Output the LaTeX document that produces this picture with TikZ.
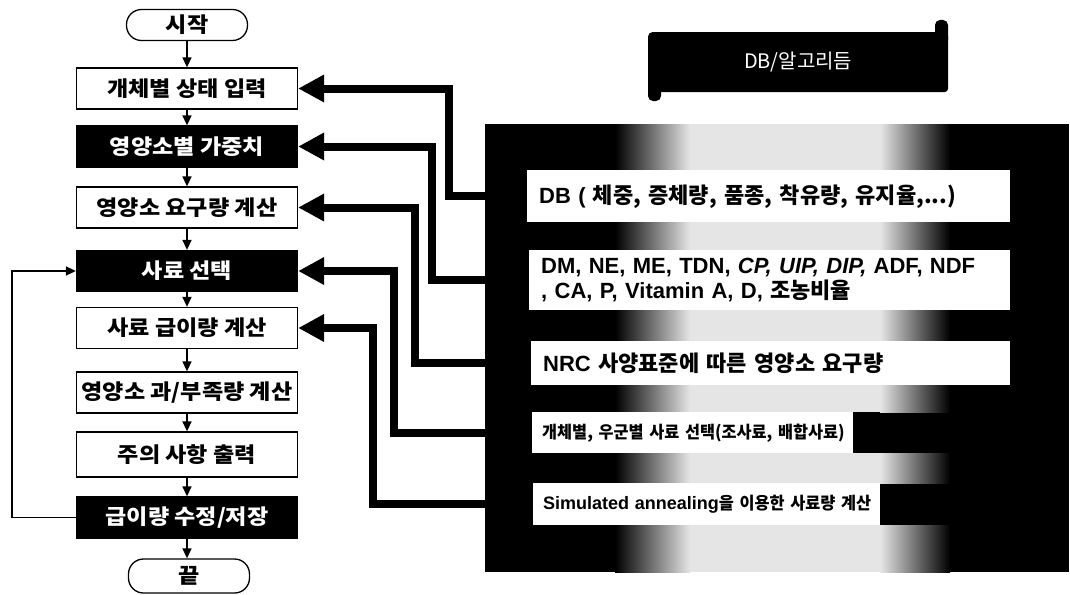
\documentclass[tikz,border=0pt]{standalone}
\usepackage{fontspec}
\setmainfont{Noto Sans CJK KR}
\newfontfamily\fcfont{Noto Sans CJK KR}[FakeStretch=1.1]
\newfontfamily\krnarrow{Noto Sans CJK KR}[FakeStretch=0.96]
\newfontfamily\lat{Liberation Sans}
\usetikzlibrary{arrows.meta}
\colorlet{bandgray}{black!10}
\begin{document}
\begin{tikzpicture}[x=1pt,y=-1pt,
  fbox/.style={draw=black, line width=1.3pt, fill=white, minimum width=221pt, minimum height=41pt, inner sep=0pt, font=\fcfont\fontsize{21}{24}\selectfont\bfseries},
  dbox/.style={fbox, fill=black, text=white},
  term/.style={draw=black, line width=1.3pt, rounded corners=15pt, minimum width=121pt, minimum height=31pt, inner sep=0pt, font=\fcfont\fontsize{21}{24}\selectfont\bfseries},
  thinarr/.style={line width=1.5pt, -{Triangle[length=10pt,width=9pt]}},
  fatarr/.style={line width=8pt, -{Triangle[length=26pt,width=26pt]}},
  pbox/.style={fill=white, anchor=north west, inner xsep=12pt, inner ysep=0pt, align=left, font=\fontsize{22}{24.5}\selectfont\bfseries},
  sbox/.style={pbox, inner xsep=10pt, font=\krnarrow\fontsize{17}{19}\selectfont\bfseries}
]
\useasboundingbox (0,0) rectangle (1070,594);
% right panel
\node[fill=black, minimum width=584pt, minimum height=448pt, inner sep=0pt, anchor=north west] (panel) at (485,124) {};
\foreach \a/\b in {124/170,222/250,310/341,385/412,453/483,525/572}{
  \shade[left color=black, right color=bandgray] (615,\a) rectangle (690,\b);
  \fill[bandgray] (690,\a) rectangle (880,\b);
  \shade[left color=bandgray, right color=black] (880,\a) rectangle (950,\b);
}
\node[pbox, minimum height=52pt, text width=459pt] (d1) at (527,170) {{\lat DB (} 체중, 증체량, 품종, 착유량, 유지율,...)};
\node[pbox, minimum height=60pt, text width=457pt] (d2) at (529,250) {{\lat DM, NE, ME, TDN, \itshape CP, UIP, DIP,\upshape{} ADF, NDF}\\{\lat , CA, P, Vitamin A, D, }조농비율};
\node[pbox, minimum height=44pt, text width=455pt] (d3) at (531,341) {{\lat NRC} 사양표준에 따른 영양소 요구량};
\node[sbox, minimum height=41pt, text width=301pt] (d4) at (532,412) {\mbox{개체별, 우군별 사료 선택(조사료, 배합사료)}};
\node[sbox, minimum height=42pt, text width=327pt] (d5) at (533,483) {\mbox{{\lat\fontsize{18}{20}\selectfont Simulated annealing}을 이용한 사료량 계산}};
% title banner
\fill[rounded corners=5pt] (935,20) rectangle (948,45);
\fill[rounded corners=5pt] (648,75) rectangle (661,101);
\node[fill=black, text=white, rounded corners=4pt, minimum width=300pt, minimum height=60pt, inner sep=0pt, anchor=north west, font=\fontsize{20}{22}\selectfont] (title) at (648,32) {DB/알고리듬};
% flowchart
\node[term] (start) at (187,25) {시작};
\node[fbox] (b1) at (187,88.5) {개체별 상태 입력};
\node[dbox] (b2) at (187,146.5) {영양소별 가중치};
\node[fbox] (b3) at (187,207.5) {영양소 요구량 계산};
\node[dbox] (b4) at (187,271) {사료 선택};
\node[fbox] (b5) at (187,328) {사료 급이량 계산};
\node[fbox] (b6) at (187,392.5) {영양소 과/부족량 계산};
\node[fbox, minimum height=45pt] (b7) at (187,454.5) {주의 사항 출력};
\node[dbox] (b8) at (187,517.5) {급이량 수정/저장};
\node[term, minimum height=34pt] (end) at (189,576) {끝};
\draw[thinarr] (start) -- (b1);
\draw[thinarr] (b1) -- (b2);
\draw[thinarr] (b2) -- (b3);
\draw[thinarr] (b3) -- (b4);
\draw[thinarr] (b4) -- (b5);
\draw[thinarr] (b5) -- (b6);
\draw[thinarr] (b6) -- (b7);
\draw[thinarr] (b7) -- (b8);
\draw[thinarr] (b8.south) -- (b8.south |- end.north);
\draw[thinarr] (b8.west) -- ++(-64,0) |- (b4.west);
% fat connectors
\draw[fatarr] (d1.west -| panel.west) -- ++(-36,0) |- (b1.east);
\draw[fatarr] (d2.west -| panel.west) -- ++(-53,0) |- (b2.east);
\draw[fatarr] (d3.west -| panel.west) -- ++(-70,0) |- (b3.east);
\draw[fatarr] (d4.west -| panel.west) -- ++(-91,0) |- (b4.east);
\draw[fatarr] (d5.west -| panel.west) -- ++(-112,0) |- (b5.east);
\end{tikzpicture}
\end{document}
